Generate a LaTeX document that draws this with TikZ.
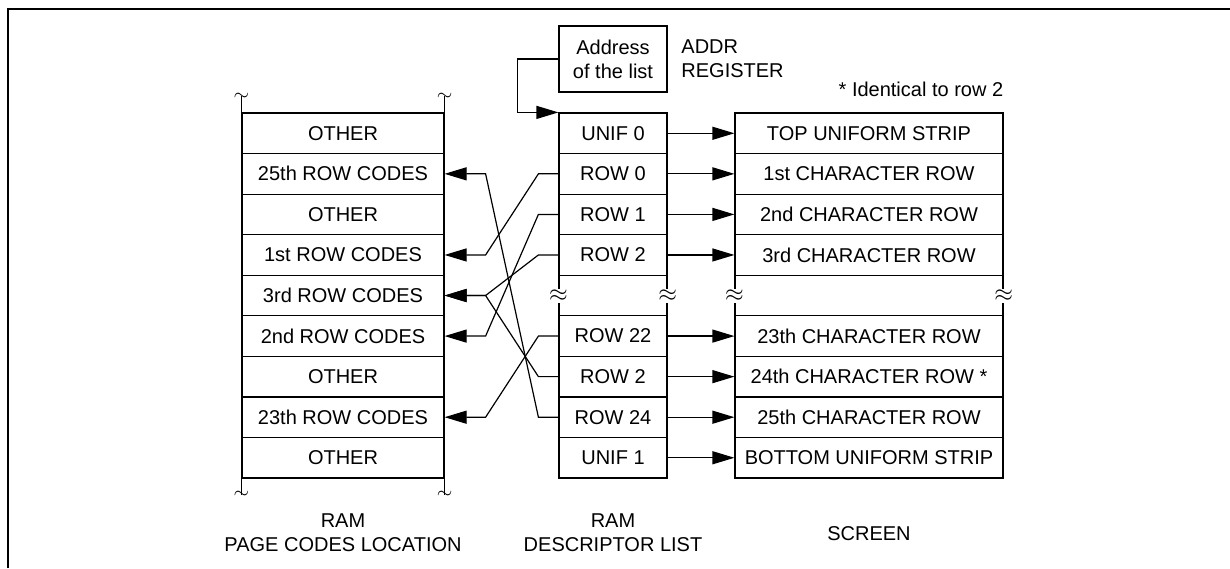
\documentclass[tikz,border=0pt]{standalone}
\usepackage{fontspec}
\setmainfont{Liberation Sans}
\usetikzlibrary{arrows.meta,positioning}
\begin{document}
\begin{tikzpicture}[x=0.5pt,y=-0.5pt,
    cell/.style={draw, line width=0.6pt, minimum height=20.28pt, inner sep=0pt},
    page/.style={cell, minimum width=101pt},
    desc/.style={cell, minimum width=54pt},
    scr/.style={cell, minimum width=134pt},
    link/.style={line width=0.6pt, -{Triangle[length=11pt,width=6.5pt]}},
    squig/.style={inner sep=0pt, font=\normalsize},
    gapmark/.style={fill=white, inner sep=0.6pt, font=\large}]
    \useasboundingbox (0,0) rectangle (1230,568);
    % Frame
    \draw[line width=1pt] (8,568) -- (8,8.5) -- (1230,8.5);
    % Define the three columns
    \foreach \t [count=\i from 0] in {OTHER, 25th ROW CODES, OTHER, 1st ROW CODES, 3rd ROW CODES, 2nd ROW CODES, OTHER, 23th ROW CODES, OTHER} {
        \node[page] (p\i) at (343, {113+40.56*(\i+0.5)}) {\t};
    }
    \foreach \t [count=\i from 0] in {UNIF 0, ROW 0, ROW 1, ROW 2, {}, ROW 22, ROW 2, ROW 24, UNIF 1} {
        \node[desc] (d\i) at (613, {113+40.56*(\i+0.5)}) {\t};
    }
    \foreach \t [count=\i from 0] in {TOP UNIFORM STRIP, 1st CHARACTER ROW, 2nd CHARACTER ROW, 3rd CHARACTER ROW, {}, 23th CHARACTER ROW, 24th CHARACTER ROW *, 25th CHARACTER ROW, BOTTOM UNIFORM STRIP} {
        \node[scr] (s\i) at (869, {113+40.56*(\i+0.5)}) {\t};
    }
    % Breaks in the columns
    \draw[line width=0.6pt] (p0.north west) -- ++(0,-16) node[squig] {$\sim$};
    \draw[line width=0.6pt] (p0.north east) -- ++(0,-16) node[squig] {$\sim$};
    \draw[line width=0.6pt] (p8.south west) -- ++(0,16) node[squig] {$\sim$};
    \draw[line width=0.6pt] (p8.south east) -- ++(0,16) node[squig] {$\sim$};
    \foreach \n in {d4.west, d4.east, s4.west, s4.east} {
        \node[gapmark] at (\n) {$\approx$};
    }
    % Address register
    \node[draw, line width=0.6pt, minimum width=54pt, minimum height=33pt, inner sep=0pt, align=center] (addr) at (613,59) {Address\\of the list};
    \node[anchor=west, inner sep=0pt, align=left] (reg) at (681,59) {ADDR\\REGISTER};
    \draw[link] (addr.west) -- +(-41,0) |- (d0.north west);
    \node[anchor=base east, inner sep=0pt] (note) at ([yshift=8pt]s0.north east) {* Identical to row 2};
    % Descriptor list to screen
    \foreach \i in {0,1,2,3,5,6,7,8} {
        \draw[link] (d\i.east) -- (s\i.west);
    }
    % Descriptor list to page codes
    \draw[link] (d7.west) -- +(-20,0) -- ([xshift=20.5pt]p1.east) -- (p1.east);
    \draw[link] (d1.west) -- +(-20,0) -- ([xshift=20.5pt]p3.east) -- (p3.east);
    \draw[link] (d3.west) -- +(-20,0) -- ([xshift=20.5pt]p4.east) -- (p4.east);
    \draw[link] (d6.west) -- +(-20,0) -- ([xshift=20.5pt]p4.east) -- (p4.east);
    \draw[link] (d2.west) -- +(-20,0) -- ([xshift=20.5pt]p5.east) -- (p5.east);
    \draw[link] (d5.west) -- +(-20,0) -- ([xshift=20.5pt]p7.east) -- (p7.east);
    % Captions
    \node[below=17.5pt of p8, inner sep=0pt, align=center] (ramp) {RAM\\PAGE CODES LOCATION};
    \node[below=17.5pt of d8, inner sep=0pt, align=center] (ramd) {RAM\\DESCRIPTOR LIST};
    \node[below=23.5pt of s8, inner sep=0pt] (screen) {SCREEN};
\end{tikzpicture}
\end{document}
